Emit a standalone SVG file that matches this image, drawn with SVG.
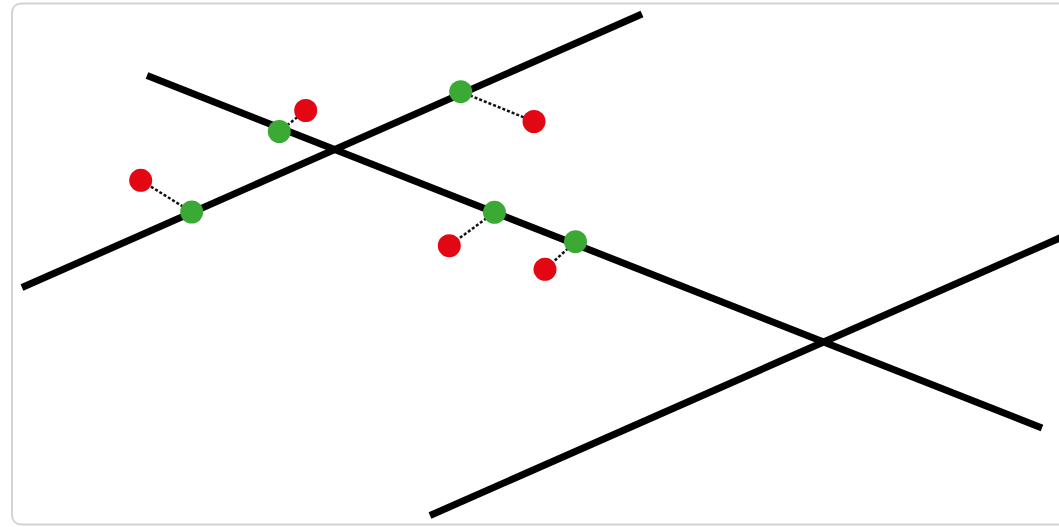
<svg xmlns="http://www.w3.org/2000/svg" width="1059" height="527" viewBox="0 0 1059 527">
<style>
.ln{stroke:#000;stroke-width:7;stroke-linecap:butt;fill:none}
.dl{stroke:#111;stroke-width:2.5;stroke-dasharray:3 2;fill:none}
.g{fill:#3aaa35}
.r{fill:#e30613}
</style>
<rect x="0" y="0" width="1059" height="527" fill="#fff"/>
<rect x="12" y="3.5" width="1065" height="521" rx="9" fill="#fff" stroke="#d3d3d3" stroke-width="2"/>
<g id="connectors">
<line class="ln" x1="22" y1="287.5" x2="642" y2="14"/>
<line class="ln" x1="147" y1="75.5" x2="1042" y2="428"/>
<line class="ln" x1="430" y1="515.5" x2="1062" y2="237"/>
<line class="dl" x1="279.3" y1="131.5" x2="305.7" y2="110.5"/>
<line class="dl" x1="460.7" y1="91.7" x2="534" y2="121.5"/>
<line class="dl" x1="191.7" y1="212" x2="140.7" y2="180.3"/>
<line class="dl" x1="494.5" y1="212.3" x2="449.3" y2="245.7"/>
<line class="dl" x1="575.5" y1="241.7" x2="545" y2="269.3"/>
</g>
<g id="p1"><circle class="g" cx="279.3" cy="131.5" r="11.5"/></g>
<g id="p2"><circle class="g" cx="460.7" cy="91.7" r="11.5"/></g>
<g id="p3"><circle class="g" cx="191.7" cy="212" r="11.5"/></g>
<g id="p4"><circle class="g" cx="494.5" cy="212.3" r="11.5"/></g>
<g id="p5"><circle class="g" cx="575.5" cy="241.7" r="11.5"/></g>
<g id="q1"><circle class="r" cx="305.7" cy="110.5" r="11.5"/></g>
<g id="q2"><circle class="r" cx="534" cy="121.5" r="11.5"/></g>
<g id="q3"><circle class="r" cx="140.7" cy="180.3" r="11.5"/></g>
<g id="q4"><circle class="r" cx="449.3" cy="245.7" r="11.5"/></g>
<g id="q5"><circle class="r" cx="545" cy="269.3" r="11.5"/></g>
</svg>
